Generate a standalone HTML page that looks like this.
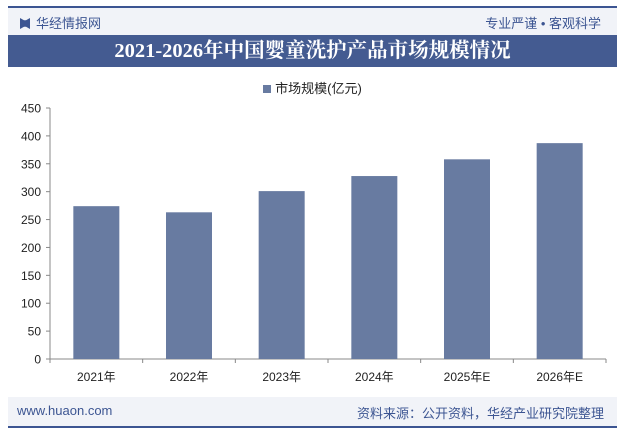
<!DOCTYPE html>
<html><head><meta charset="utf-8"><style>
body{margin:0;width:625px;height:432px;background:#fff;font-family:"Liberation Sans","Noto Sans CJK SC",sans-serif;position:relative;overflow:hidden}
.abs{position:absolute}
</style></head><body>
<div class="abs" style="left:8px;top:6px;width:609px;height:2px;background:#3c5592"></div>
<div class="abs" style="left:8px;top:8px;width:609px;height:27px;background:#f1f3f8"></div>
<div class="abs" style="left:20px;top:13px;font-size:13px;color:#3c5592"><span style="display:inline-block;width:10px;height:11px;background:#3c5592;margin-right:6px;vertical-align:-1px;clip-path:polygon(0 0,40% 20%,60% 20%,100% 0,100% 100%,60% 80%,40% 80%,0 100%)"></span>华经情报网</div>
<div class="abs" style="right:24px;top:13px;font-size:13px;color:#3c5592">专业严谨 • 客观科学</div>
<div class="abs" style="left:8px;top:35px;width:609px;height:32px;background:#445b91;color:#fff;font-family:'Liberation Serif','Noto Serif CJK SC',serif;font-weight:bold;font-size:20.5px;line-height:32px;text-align:center">2021-2026年中国婴童洗护产品市场规模情况</div>
<div class="abs" style="left:0;width:625px;top:78px;text-align:center;font-size:13px;color:#222"><span style="display:inline-block;width:8px;height:8px;background:#687ba1;margin-right:4px"></span>市场规模(亿元)</div>
<svg class="abs" style="left:0;top:0" width="625" height="432">
<g id="g"></g></svg>
<div class="abs" style="left:8px;top:397px;width:609px;height:29px;background:#f1f3f8"></div>
<div class="abs" style="left:17px;top:403px;font-size:13px;color:#3c5592">www.huaon.com</div>
<div class="abs" style="right:21px;top:403px;font-size:13px;color:#3c5592">资料来源：公开资料，华经产业研究院整理</div>
<div class="abs" style="left:8px;top:426px;width:609px;height:2px;background:#3c5592"></div>
<script>
const categories=["2021年","2022年","2023年","2024年","2025年E","2026年E"];
const values=[274,263,301,328,358,387];
const yTicks=[0,50,100,150,200,250,300,350,400,450];
const g=document.getElementById('g');const NS='http://www.w3.org/2000/svg';
const x0=50,x1=606,y0=359,yTop=108,ymax=450;
const y=v=>y0-(v/ymax)*(y0-yTop);
const band=(x1-x0)/categories.length;
function mk(t,a){const e=document.createElementNS(NS,t);for(const k in a)e.setAttribute(k,a[k]);g.appendChild(e);return e;}
let ax=mk('line',{x1:x0,y1:yTop,x2:x0,y2:y0,stroke:'#888'});

let bx=mk('line',{x1:x0,y1:y0,x2:x1,y2:y0,stroke:'#888'});

yTicks.forEach(t=>{mk('line',{x1:x0-4,x2:x0,y1:y(t),y2:y(t),stroke:'#888'});
const l=mk('text',{x:x0-9,y:y(t)+4.5,'text-anchor':'end','font-size':12,fill:'#222'});l.textContent=t;
});
for(let i=0;i<=categories.length;i++)mk('line',{x1:x0+i*band,x2:x0+i*band,y1:y0,y2:y0+4,stroke:'#888'});
categories.forEach((c,i)=>{const cx=x0+band*(i+0.5);
const r=mk('rect',{x:cx-23,y:y(values[i]),width:46,height:y0-y(values[i]),fill:'#687ba1'});

const l=mk('text',{x:cx,y:381,'text-anchor':'middle','font-size':12,fill:'#222'});l.textContent=c;
});
</script>
</body></html>
